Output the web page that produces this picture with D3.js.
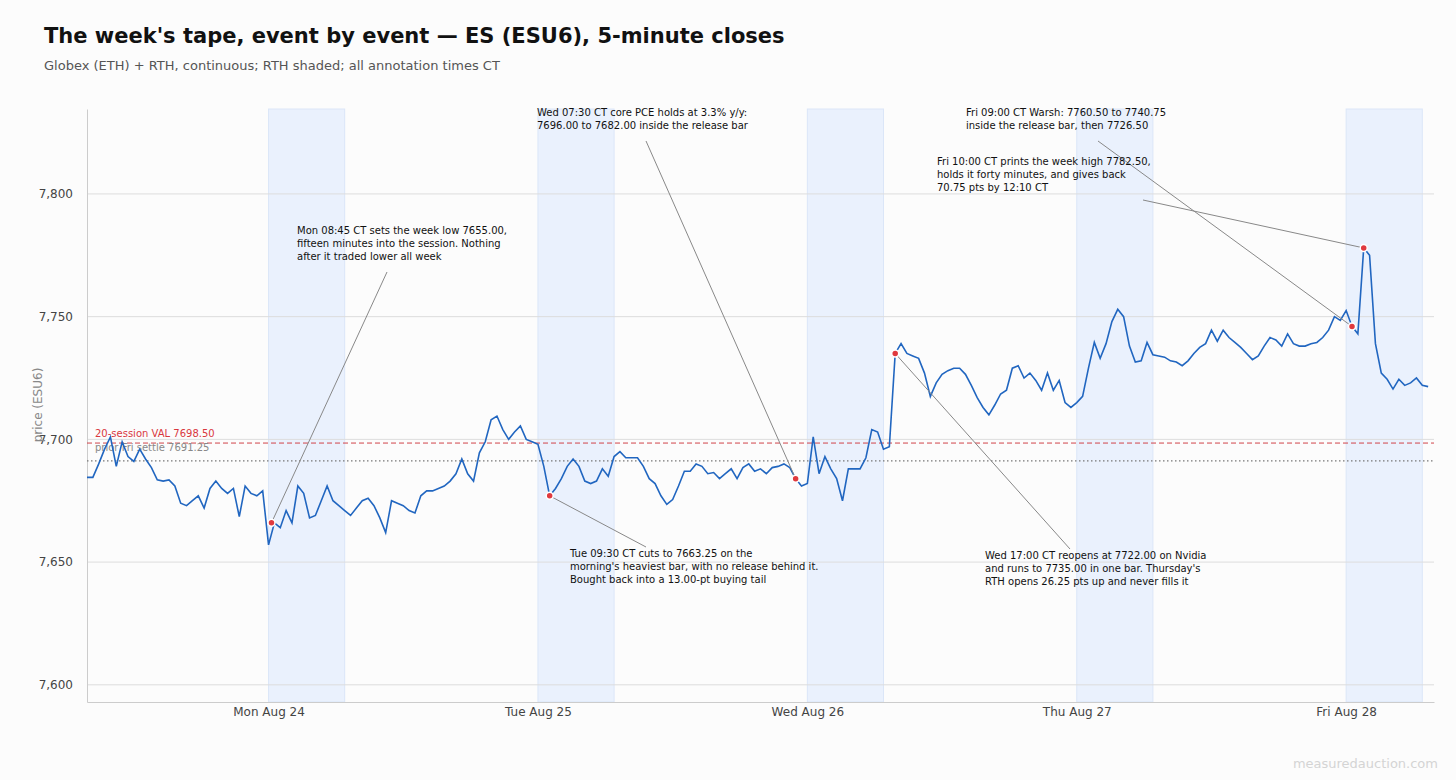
<!DOCTYPE html>
<html>
<head>
<meta charset="utf-8">
<script src="https://cdn.jsdelivr.net/npm/d3@7"></script>
<style>
body { margin: 0; background: #fcfcfc; font-family: "DejaVu Sans", sans-serif; }
</style>
</head>
<body>
<svg id="chart" width="1456" height="780"></svg>
<script>
// 5-minute closes sampled every 6 bars (30 min), one array per Globex session
const monPx = [7684.5,7684.5,7690,7696,7701,7689,7699,7693,7691,7696,7692,7688.5,7683.5,7683,7683.5,7681,7674,7673,7675,7677,7672,7680,7683,7680,7678,7680,7668.5,7681,7678,7677,7679,7657,7666,7664,7671,7666,7681,7678,7668,7669,7675,7681,7675,7673,7671,7669];
const tuePx = [7672,7675,7676,7673,7668,7662,7675,7674,7673,7671,7670,7677,7679,7679,7680,7681,7683,7686,7692,7686,7683,7694.5,7699,7708,7709.5,7704,7700,7703,7705.5,7700,7699,7698,7689,7677,7680,7684,7689,7692,7689,7683,7682,7683,7688,7685,7693,7695];
const wedPx = [7692.5,7692.5,7692.5,7689,7684,7682,7677,7673.5,7675.5,7681,7687,7687,7690,7689,7686,7686.5,7684,7686,7688,7684,7688.5,7690,7687,7688,7686,7688.5,7689,7690,7688.5,7684,7681,7682,7701,7686,7693,7688,7684,7675,7688,7688,7688,7692.5,7704,7703,7696,7697];
const thuPx = [7735,7739,7735,7734,7733,7727,7717.5,7723,7726.5,7728,7729,7729,7726.5,7722,7717,7713,7710,7714,7718.5,7720,7729,7730,7725,7727,7724,7720,7727,7720,7724,7715,7713,7715,7717.5,7729,7739.5,7733,7739,7748,7753,7750,7738,7731.5,7732,7739.5,7734.5,7734];
const friPx = [7733.5,7732,7731.5,7730,7732,7735,7737.5,7739,7744.5,7740,7744.5,7741.5,7739.5,7737.5,7735,7732.5,7734,7738,7741.5,7740.5,7738,7743,7739,7738,7738,7739,7739.5,7741.5,7744.5,7750,7748.5,7752.5,7746,7743,7778,7775,7739,7727,7724.5,7720.5,7724.5,7722,7723,7725,7722,7721.5];
const sessions = [monPx, tuePx, wedPx, thuPx, friPx];
const dayLabels = ["Mon Aug 24","Tue Aug 25","Wed Aug 26","Thu Aug 27","Fri Aug 28"];
const yTicks = [7600,7650,7700,7750,7800];

const barsPerSession = 276, step = 6, rthOpen = 186, rthBars = 78;
const val = 7698.5, settle = 7691.25;

const notes = [
  {bar: 189, px: 7666, tx: 297, ty: 234, ex: 387, ey: 272,
   lines: ["Mon 08:45 CT sets the week low 7655.00,","fifteen minutes into the session. Nothing","after it traded lower all week"]},
  {bar: 474, px: 7677, tx: 570, ty: 557, ex: 646, ey: 547,
   lines: ["Tue 09:30 CT cuts to 7663.25 on the","morning's heaviest bar, with no release behind it.","Bought back into a 13.00-pt buying tail"]},
  {bar: 726, px: 7684, tx: 537, ty: 116, ex: 646, ey: 141,
   lines: ["Wed 07:30 CT core PCE holds at 3.3% y/y:","7696.00 to 7682.00 inside the release bar"]},
  {bar: 828, px: 7735, tx: 985, ty: 559, ex: 1070, ey: 549,
   lines: ["Wed 17:00 CT reopens at 7722.00 on Nvidia","and runs to 7735.00 in one bar. Thursday's","RTH opens 26.25 pts up and never fills it"]},
  {bar: 1296, px: 7746, tx: 966, ty: 116, ex: 1098, ey: 141,
   lines: ["Fri 09:00 CT Warsh: 7760.50 to 7740.75","inside the release bar, then 7726.50"]},
  {bar: 1308, px: 7778, tx: 937, ty: 165, ex: 1143, ey: 200,
   lines: ["Fri 10:00 CT prints the week high 7782.50,","holds it forty minutes, and gives back","70.75 pts by 12:10 CT"]}
];

const svg = d3.select("#chart");
const m = {l: 87, r: 1434, t: 109, b: 702};
const x = d3.scaleLinear().domain([0, barsPerSession * 5]).range([m.l, m.r]);
const y = d3.scaleLinear().domain([7593, 7834.6]).range([m.b, m.t]);

const pts = [];
sessions.forEach((arr, d) => arr.forEach((p, i) => pts.push({bar: d * barsPerSession + i * step, px: p})));

// RTH shading
svg.selectAll("rect.rth").data(dayLabels).join("rect")
  .attr("x", (d, i) => x(i * barsPerSession + rthOpen))
  .attr("width", x(rthBars) - x(0))
  .attr("y", m.t).attr("height", m.b - m.t)
  .attr("fill", "#eaf1fd").attr("stroke", "#dbe6f8");

// grid
svg.selectAll("line.grid").data(yTicks).join("line")
  .attr("x1", m.l).attr("x2", m.r)
  .attr("y1", d => y(d)).attr("y2", d => y(d))
  .attr("stroke", "#dddddd");

// axes
const ya = svg.append("g").attr("transform", `translate(${m.l},0)`)
  .call(d3.axisLeft(y).tickValues(yTicks).tickSize(0).tickPadding(14));
const xa = svg.append("g").attr("transform", `translate(0,${m.b})`)
  .call(d3.axisBottom(x).tickValues(dayLabels.map((d, i) => i * barsPerSession + rthOpen))
    .tickFormat((d, i) => dayLabels[i]).tickSize(0).tickPadding(5));
[ya, xa].forEach(g => {
  g.select(".domain").attr("stroke", "#cccccc");
  g.selectAll("text").attr("font-family", "DejaVu Sans").attr("font-size", 12).attr("fill", "#444");
});

svg.append("text").attr("transform", "translate(42,405) rotate(-90)")
  .attr("text-anchor", "middle").attr("font-size", 12).attr("fill", "#888").text("price (ESU6)");

// reference lines
svg.append("line").attr("x1", m.l).attr("x2", m.r).attr("y1", y(val)).attr("y2", y(val))
  .attr("stroke", "#d0444a").attr("stroke-dasharray", "5,3").attr("stroke-width", 1);
svg.append("text").attr("x", 95).attr("y", y(val) - 6).attr("font-size", 10).attr("fill", "#d9383e")
  .text("20-session VAL 7698.50");
svg.append("line").attr("x1", m.l).attr("x2", m.r).attr("y1", y(settle)).attr("y2", y(settle))
  .attr("stroke", "#777").attr("stroke-dasharray", "1.5,2.5").attr("stroke-width", 1.2);
svg.append("text").attr("x", 95).attr("y", y(settle) - 10).attr("font-size", 10).attr("fill", "#888")
  .text("prior Fri settle 7691.25");

// price line
svg.append("path").datum(pts)
  .attr("d", d3.line().x(d => x(d.bar)).y(d => y(d.px)))
  .attr("fill", "none").attr("stroke", "#2166c0").attr("stroke-width", 1.6);

// annotations
notes.forEach(n => {
  svg.append("line").attr("x1", x(n.bar)).attr("y1", y(n.px)).attr("x2", n.ex).attr("y2", n.ey)
    .attr("stroke", "#888").attr("stroke-width", 1);
  svg.append("circle").attr("cx", x(n.bar)).attr("cy", y(n.px)).attr("r", 3.5)
    .attr("fill", "#e0393e").attr("stroke", "#fff").attr("stroke-width", 1.5);
  const t = svg.append("text").attr("font-size", 10).attr("fill", "#111");
  n.lines.forEach((l, i) => t.append("tspan").attr("x", n.tx).attr("y", n.ty + i * 13).text(l));
});

// titles
svg.append("text").attr("x", 44).attr("y", 43).attr("font-size", 21).attr("font-weight", "bold")
  .attr("fill", "#111").text("The week's tape, event by event \u2014 ES (ESU6), 5-minute closes");
svg.append("text").attr("x", 44).attr("y", 70).attr("font-size", 13).attr("fill", "#555")
  .text("Globex (ETH) + RTH, continuous; RTH shaded; all annotation times CT");
svg.append("text").attr("x", 1438).attr("y", 768).attr("text-anchor", "end").attr("font-size", 13)
  .attr("fill", "#d4d4d4").text("measuredauction.com");
</script>
</body>
</html>
